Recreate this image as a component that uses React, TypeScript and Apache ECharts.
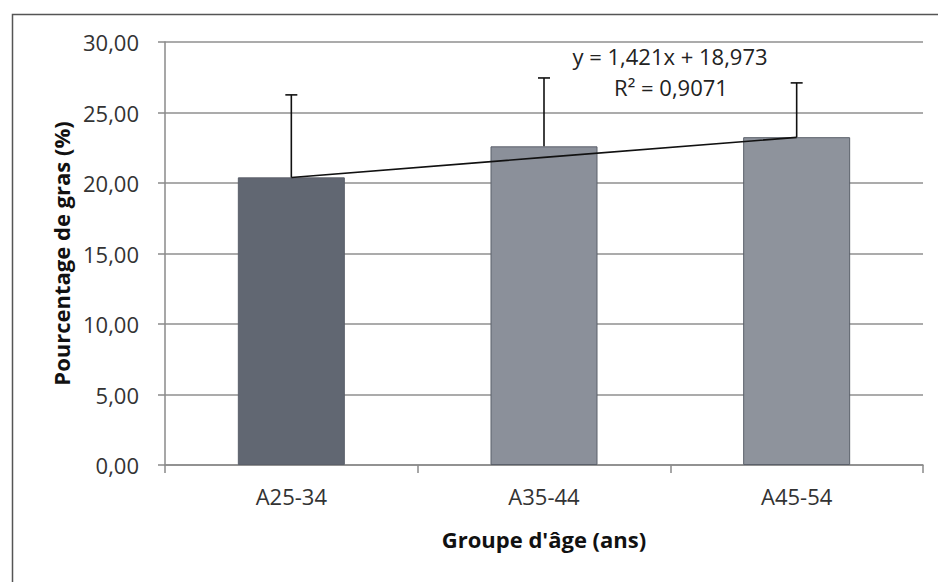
import React, { useEffect, useRef } from "react";
import * as echarts from "echarts";

// Age groups and mean body-fat percentage, with the upper standard deviation
const categories = ["A25-34", "A35-44", "A45-54"];
const meanFat = [20.4, 22.6, 23.25];
const sdUp = [5.85, 4.85, 3.85];
const barColors = ["#616772", "#8b909a", "#8e939c"];

// Linear trend y = a·x + b, x = 1..3
const trendSlope = 1.421;
const trendIntercept = 18.973;
const trendLabel = "y = 1,421x + 18,973";
const r2Label = "R² = 0,9071";

const yTicks = { min: 0, max: 30, interval: 5 };

const FONT = "'Open Sans', 'Noto Sans', sans-serif";

export default function App() {
  const ref = useRef<HTMLDivElement>(null);

  useEffect(() => {
    document.body.style.margin = "0";
    const chart = echarts.init(ref.current!, null, { renderer: "svg" });

    const trend = categories.map((_, i) => +(trendSlope * (i + 1) + trendIntercept).toFixed(3));
    const errData = categories.map((_, i) => [i, meanFat[i], meanFat[i] + sdUp[i]]);

    chart.setOption({
      animation: false,
      backgroundColor: "#ffffff",
      grid: { left: 165, right: 15, top: 42, bottom: 117 },
      xAxis: {
        type: "category",
        data: categories,
        boundaryGap: true,
        axisLine: { lineStyle: { color: "#8a8a8a", width: 1.5 } },
        axisTick: { show: true, length: 8, lineStyle: { color: "#8a8a8a", width: 1.5 } },
        axisLabel: { color: "#333", fontFamily: FONT, fontSize: 22, margin: 20 },
        name: "Groupe d'âge (ans)",
        nameLocation: "middle",
        nameGap: 63,
        nameTextStyle: { color: "#111", fontFamily: FONT, fontSize: 22, fontWeight: "bold" },
      },
      yAxis: {
        type: "value",
        min: yTicks.min,
        max: yTicks.max,
        interval: yTicks.interval,
        axisLine: { show: true, lineStyle: { color: "#8a8a8a", width: 1.5 } },
        axisTick: { show: true, length: 7, lineStyle: { color: "#8a8a8a", width: 1.5 } },
        axisLabel: {
          color: "#333",
          fontFamily: FONT,
          fontSize: 22,
          margin: 26,
          formatter: (v: number) => v.toFixed(2).replace(".", ","),
        },
        splitLine: { lineStyle: { color: "#8f8f8f", width: 1.5 } },
        name: "Pourcentage de gras (%)",
        nameLocation: "middle",
        nameGap: 88,
        nameTextStyle: { color: "#111", fontFamily: FONT, fontSize: 22, fontWeight: "bold" },
      },
      series: [
        {
          type: "bar",
          data: meanFat.map((v, i) => ({
            value: v,
            itemStyle: { color: barColors[i], borderColor: "#5b606a", borderWidth: 1 },
          })),
          barWidth: 107,
          z: 2,
        },
        {
          type: "custom",
          data: errData,
          z: 4,
          renderItem: (params: any, api: any) => {
            const base = api.coord([api.value(0), api.value(1)]);
            const top = api.coord([api.value(0), api.value(2)]);
            const cap = 6;
            return {
              type: "group",
              children: [
                {
                  type: "line",
                  shape: { x1: base[0], y1: base[1], x2: top[0], y2: top[1] },
                  style: { stroke: "#111", lineWidth: 1.6 },
                },
                {
                  type: "line",
                  shape: { x1: top[0] - cap, y1: top[1], x2: top[0] + cap, y2: top[1] },
                  style: { stroke: "#111", lineWidth: 1.6 },
                },
              ],
            };
          },
        },
        {
          type: "line",
          data: trend,
          showSymbol: false,
          symbol: "none",
          lineStyle: { color: "#111", width: 1.6 },
          z: 5,
        },
      ],
      graphic: [
        {
          type: "rect",
          left: 10,
          top: 12,
          shape: { width: 960, height: 620 },
          style: { fill: "none", stroke: "#555", lineWidth: 1.5 },
          silent: true,
        },
        {
          type: "text",
          x: 670,
          y: 56,
          style: {
            text: trendLabel,
            fill: "#222",
            font: `22px ${FONT}`,
            textAlign: "center",
            textVerticalAlign: "middle",
          },
        },
        {
          type: "text",
          x: 671,
          y: 87,
          style: {
            text: r2Label,
            fill: "#222",
            font: `22px ${FONT}`,
            textAlign: "center",
            textVerticalAlign: "middle",
          },
        },
      ],
    });

    return () => chart.dispose();
  }, []);

  return <div ref={ref} style={{ width: 938, height: 582 }} />;
}
